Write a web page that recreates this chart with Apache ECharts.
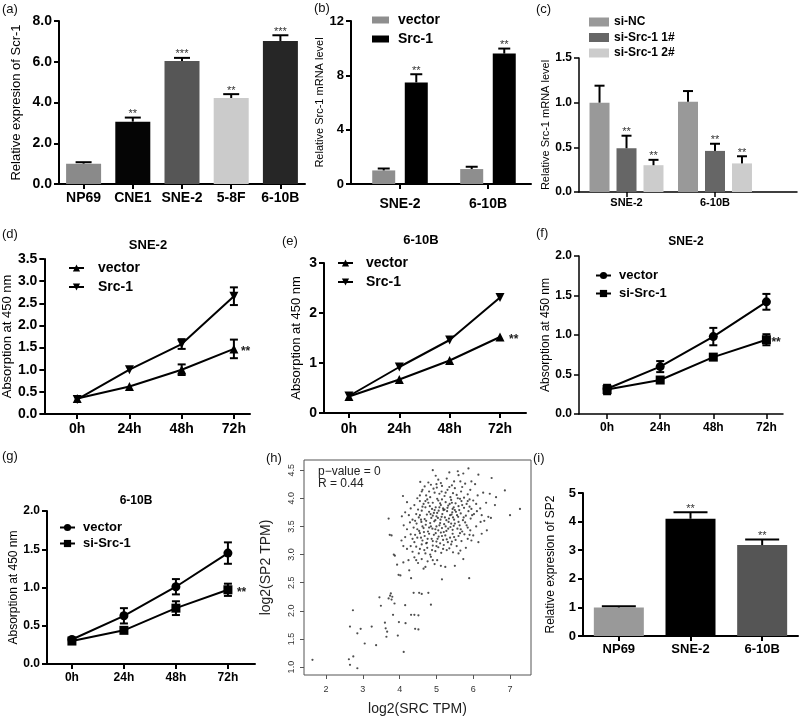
<!DOCTYPE html>
<html>
<head>
<meta charset="utf-8">
<script src="https://cdn.jsdelivr.net/npm/echarts@6/dist/echarts.min.js"></script>
<style>
  html, body { margin: 0; padding: 0; background: #fff; }
  #main { width: 800px; height: 717px; }
</style>
</head>
<body>
<div id="main"></div>
<script>
var FONT = 'Liberation Sans, Arial, sans-serif';

// (a) relative expression of Scr-1
var aCats = ['NP69', 'CNE1', 'SNE-2', '5-8F', '6-10B'];
var aVals = [1.0, 3.06, 6.04, 4.22, 7.02];
var aErr = [0.07, 0.2, 0.15, 0.19, 0.28];
var aStars = ['', '**', '***', '**', '***'];
var aColors = ['#8a8a8a', '#050505', '#565656', '#cbcbcb', '#262626'];

// (b) Src-1 mRNA, overexpression
var bCats = ['SNE-2', '6-10B'];
var bVector = [1.0, 1.1];
var bVectorErr = [0.14, 0.17];
var bSrc = [7.48, 9.6];
var bSrcErr = [0.6, 0.37];
var bSrcStars = ['**', '**'];

// (c) Src-1 mRNA, knockdown
var cCats = ['SNE-2', '6-10B'];
var cNC = [1.0, 1.01];
var cNCErr = [0.19, 0.12];
var cSi1 = [0.49, 0.46];
var cSi1Err = [0.14, 0.08];
var cSi2 = [0.3, 0.32];
var cSi2Err = [0.06, 0.08];
var cStars = ['**', '**'];

// time course
var hours = [0, 24, 48, 72];
var hourLabels = ['0h', '24h', '48h', '72h'];

// (d) SNE-2
var dVector = [0.35, 0.62, 1.0, 1.47];
var dVectorErr = [0.03, 0.03, 0.12, 0.21];
var dSrc = [0.33, 1.0, 1.58, 2.66];
var dSrcErr = [0.03, 0.03, 0.11, 0.2];
// (e) 6-10B
var eVector = [0.33, 0.67, 1.05, 1.52];
var eVectorErr = [0, 0, 0, 0];
var eSrc = [0.34, 0.92, 1.46, 2.31];
var eSrcErr = [0, 0, 0, 0];
// (f) SNE-2
var fVector = [0.32, 0.6, 0.98, 1.42];
var fVectorErr = [0.05, 0.07, 0.11, 0.1];
var fSi = [0.31, 0.43, 0.72, 0.94];
var fSiErr = [0.06, 0.03, 0.04, 0.07];
// (g) 6-10B
var gVector = [0.32, 0.63, 1.01, 1.45];
var gVectorErr = [0.04, 0.1, 0.1, 0.14];
var gSi = [0.3, 0.44, 0.73, 0.97];
var gSiErr = [0.04, 0.03, 0.09, 0.08];
var lineStars = ['', '', '', '**'];

// (h) log2(SRC TPM) vs log2(SP2 TPM)
var hPoints = [
  [4.9,4.5],[5.58,4.48],[5.87,4.53],[5.73,4.44],[6.14,4.42],[6.5,4.36],[4.56,4.29],[4.78,4.28],[5.05,4.33],[5.28,4.35],
  [5.42,4.23],[5.6,4.41],[5.78,4.26],[5.15,4.22],[4.68,4.21],[5.95,4.3],[6.05,4.25],[5.35,4.46],[4.98,4.4],
  [4.09,4.04],[4.92,4.17],[5.01,4.19],[5.14,4.12],[5.3,4.15],[5.45,4.09],[5.67,4.12],[5.92,4.15],[6.86,4.14],[6.45,4.08],
  [4.72,4.05],[4.6,4.12],[4.83,4.02],[5.22,4.04],[5.38,4.02],[5.55,4.06],[5.75,4.01],[6.12,4.05],[6.27,4.1],[4.48,4.0],
  [5.08,4.08],[5.5,4.18],[5.85,4.07],[6.62,4.02],[4.95,4.1],
  [4.55,3.95],[4.65,3.9],[4.75,3.98],[4.82,3.86],[4.9,3.92],[4.98,3.84],[5.05,3.96],[5.12,3.88],[5.18,3.82],[5.25,3.93],
  [5.32,3.87],[5.4,3.97],[5.47,3.84],[5.52,3.91],[5.6,3.86],[5.68,3.95],[5.75,3.83],[5.82,3.9],[5.9,3.85],[6.0,3.96],
  [6.19,3.82],[6.59,3.88],[7.27,3.81],[4.4,3.88],[4.3,3.82],[4.2,3.93],[5.02,3.99],[5.22,3.8],[5.44,3.81],[5.64,3.99],
  [4.88,3.81],[6.35,3.92],[5.95,3.81],[5.1,3.91],[5.36,3.9],[4.7,3.84],
  [4.06,3.68],[3.7,3.64],[4.15,3.75],[4.25,3.7],[4.35,3.62],[4.45,3.72],[4.52,3.66],[4.6,3.78],[4.68,3.63],[4.74,3.71],
  [4.8,3.76],[4.86,3.65],[4.93,3.74],[5.0,3.68],[5.06,3.78],[5.11,3.62],[5.16,3.72],[5.23,3.66],[5.29,3.77],[5.34,3.64],
  [5.41,3.71],[5.48,3.62],[5.53,3.76],[5.59,3.67],[5.66,3.73],[5.72,3.61],[5.8,3.69],[5.87,3.77],[5.93,3.64],[6.02,3.72],
  [6.23,3.7],[6.41,3.67],[7.0,3.7],[6.48,3.65],[4.97,3.61],[5.19,3.79],[5.37,3.7],[5.62,3.79],[4.9,3.69],[5.45,3.66],
  [5.04,3.65],[4.58,3.62],
  [4.11,3.52],[4.2,3.45],[4.28,3.57],[4.38,3.48],[4.46,3.55],[4.53,3.42],[4.59,3.58],[4.65,3.47],[4.71,3.53],[4.77,3.41],
  [4.83,3.56],[4.89,3.46],[4.94,3.59],[5.0,3.5],[5.05,3.43],[5.1,3.56],[5.15,3.47],[5.21,3.54],[5.27,3.42],[5.33,3.58],
  [5.38,3.49],[5.44,3.44],[5.5,3.55],[5.57,3.46],[5.63,3.52],[5.7,3.41],[5.78,3.57],[5.85,3.48],[5.92,3.43],[6.0,3.34],
  [6.37,3.43],[6.08,3.5],[4.85,3.5],[5.25,3.5],[5.6,3.58],[4.62,3.5],[5.4,3.55],[3.73,3.35],[3.78,3.34],
  [4.15,3.31],[4.05,3.25],[4.3,3.36],[4.4,3.22],[4.48,3.3],[4.55,3.38],[4.62,3.25],[4.68,3.33],[4.74,3.21],[4.8,3.37],
  [4.87,3.28],[4.93,3.35],[5.0,3.23],[5.06,3.32],[5.12,3.39],[5.18,3.26],[5.24,3.34],[5.31,3.22],[5.37,3.3],[5.44,3.37],
  [5.52,3.26],[5.6,3.33],[5.68,3.24],[5.76,3.36],[5.85,3.28],[6.23,3.37],[6.14,3.22],[5.95,3.25],[4.98,3.38],[5.42,3.23],
  [4.35,3.28],
  [4.2,3.1],[3.84,3.0],[3.87,2.98],[4.1,3.15],[4.35,3.05],[4.45,3.14],[4.52,3.02],[4.6,3.18],[4.67,3.08],[4.75,3.12],
  [4.83,3.0],[4.9,3.16],[4.97,3.06],[5.05,3.13],[5.13,3.03],[5.2,3.17],[5.28,3.08],[5.35,3.11],[5.45,3.04],[5.55,3.15],
  [5.65,3.07],[5.8,3.12],[4.72,3.2],[5.1,3.2],
  [4.24,2.9],[3.93,2.82],[4.4,2.95],[4.5,2.85],[4.6,2.92],[4.7,2.78],[4.76,2.88],[4.85,2.96],[4.95,2.83],[5.02,2.9],
  [5.12,2.8],[5.24,2.78],[5.73,2.92],[4.65,2.75],[5.5,2.8],[4.26,2.72],[4.1,2.86],
  [3.97,2.64],[4.02,2.63],[4.31,2.58],[5.15,2.56],[5.89,2.58],
  [4.62,4.15],[4.85,4.24],[5.12,4.27],[5.48,4.3],[5.7,4.2],[5.25,4.1],[4.8,4.12],[5.58,4.0],[5.9,3.98],[6.08,3.9],
  [4.5,3.8],[4.62,3.85],[4.78,3.92],[4.95,3.79],[5.08,3.84],[5.3,3.83],[5.5,3.79],[5.7,3.88],[5.85,3.95],[6.1,3.77],
  [4.42,3.6],[4.55,3.7],[4.72,3.6],[4.84,3.72],[5.02,3.74],[5.14,3.67],[5.27,3.61],[5.43,3.75],[5.56,3.7],[5.74,3.66],
  [4.48,3.45],[4.66,3.4],[4.8,3.48],[4.97,3.45],[5.08,3.52],[5.2,3.4],[5.32,3.46],[5.47,3.51],[5.66,3.45],[5.82,3.52],
  [4.42,3.35],[4.58,3.3],[4.76,3.28],[4.9,3.24],[5.03,3.28],[5.15,3.33],[5.28,3.27],[5.48,3.31],[5.64,3.38],[5.9,3.35],
  [4.3,3.15],[4.55,3.1],[4.7,3.02],[4.88,3.08],[5.0,3.15],[5.18,3.1],[5.4,3.18],[5.6,3.02],[4.45,2.9],[4.9,2.9],
  [4.55,4.05],[5.0,4.25],[5.35,4.2],[5.65,4.3],[4.7,3.95],[5.15,3.98],[5.42,3.92],[5.97,3.7],[6.2,3.58],[6.3,3.6],
  [1.63,1.13],[2.62,1.14],[2.65,1.04],[2.74,1.19],[2.85,0.98],[2.73,2.01],[2.65,1.72],[2.85,1.6],[2.94,1.68],[3.05,1.42],
  [3.24,1.72],[3.36,1.39],[3.45,2.24],[3.49,2.09],[3.6,1.79],[3.62,1.69],[3.66,1.63],[3.64,1.54],[3.7,2.22],[3.74,2.27],
  [3.76,2.31],[3.78,2.2],[3.8,2.25],[3.86,2.13],[3.82,1.93],[3.95,1.56],[4.11,1.27],[4.16,1.78],[4.38,2.32],[4.53,2.32],
  [4.78,2.32],[4.85,2.11],[4.31,1.93],[4.4,1.93],[4.51,1.92],[4.15,2.1],[3.98,1.8],[4.42,1.68],[4.51,1.67],[4.6,2.3]
];
var hXTicks = [2, 3, 4, 5, 6, 7];
var hYTicks = [1.0, 1.5, 2.0, 2.5, 3.0, 3.5, 4.0, 4.5];

// (i) relative expression of SP2
var iCats = ['NP69', 'SNE-2', '6-10B'];
var iVals = [1.0, 4.1, 3.18];
var iErr = [0.04, 0.23, 0.19];
var iStars = ['', '**', '**'];
var iColors = ['#999999', '#000000', '#555555'];

function groupData(vals, off) {
  return vals.map(function (v, i) { return [i + off, v]; });
}
function groupErr(vals, errs, off) {
  return vals.map(function (v, i) { return [i + off, v, v + errs[i], v]; });
}
function lineData(vals) {
  return hours.map(function (h, i) { return [h, vals[i]]; });
}
function lineErr(vals, errs) {
  return hours.map(function (h, i) { return [h, vals[i] - errs[i], vals[i] + errs[i], vals[i]]; });
}

// error bars (and significance stars) drawn through the axes
function errSeries(ax, data, stars, o) {
  return {
    type: 'custom', xAxisIndex: ax, yAxisIndex: ax, z: 3, silent: true,
    data: data, encode: {x: 0, y: [1, 2]},
    renderItem: function (params, api) {
      var x = api.value(0);
      var lo = api.coord([x, api.value(1)]);
      var hi = api.coord([x, api.value(2)]);
      var st = {stroke: '#000', lineWidth: o.lw || 2};
      var kids = [];
      if (lo[1] - hi[1] > (o.minPx || 0)) {
        kids.push({type: 'line', shape: {x1: lo[0], y1: lo[1], x2: hi[0], y2: hi[1]}, style: st});
        kids.push({type: 'line', shape: {x1: hi[0] - o.cap, y1: hi[1], x2: hi[0] + o.cap, y2: hi[1]}, style: st});
        if (o.both) {
          kids.push({type: 'line', shape: {x1: lo[0] - o.cap, y1: lo[1], x2: lo[0] + o.cap, y2: lo[1]}, style: st});
        }
      }
      var s = stars ? stars[params.dataIndex] : '';
      if (s) {
        if (o.starRight) {
          var m = api.coord([x, api.value(3)]);
          kids.push({type: 'text', x: m[0] + o.starDx, y: m[1] + 3,
            style: {text: s, align: 'left', verticalAlign: 'middle', font: o.starFont, fill: '#222'}});
        } else {
          kids.push({type: 'text', x: hi[0], y: hi[1] + 2,
            style: {text: s, align: 'center', verticalAlign: 'bottom', font: o.starFont, fill: '#333'}});
        }
      }
      return {type: 'group', children: kids};
    }
  };
}

function yAxisOf(g, min, max, step, dec, fs, name, gap, nfs, lw) {
  return {
    type: 'value', gridIndex: g, min: min, max: max, interval: step,
    axisLine: {show: true, onZero: false, lineStyle: {color: '#000', width: lw}},
    axisTick: {show: true, length: 5, lineStyle: {color: '#000', width: lw}},
    splitLine: {show: false},
    axisLabel: {color: '#000', fontWeight: 'bold', fontSize: fs, fontFamily: FONT, margin: 7,
      formatter: function (v) { return v.toFixed(dec); }},
    name: name, nameLocation: 'middle', nameGap: gap,
    nameTextStyle: {color: '#000', fontSize: nfs, fontFamily: FONT}
  };
}
function catAxisOf(g, cats, fs, margin, lw) {
  return {
    type: 'category', gridIndex: g, data: cats,
    axisLine: {show: true, onZero: false, lineStyle: {color: '#000', width: lw}},
    axisTick: {show: true, alignWithLabel: true, length: 5, lineStyle: {color: '#000', width: lw}},
    axisLabel: {interval: 0, color: '#000', fontWeight: 'bold', fontSize: fs, fontFamily: FONT, margin: margin}
  };
}
function posAxisOf(g, min, max, ticks, labels, fs, margin, lw) {
  return {
    type: 'value', gridIndex: g, min: min, max: max,
    axisLine: {show: true, onZero: false, lineStyle: {color: '#000', width: lw}},
    axisTick: {show: true, length: 5, customValues: ticks, lineStyle: {color: '#000', width: lw}},
    splitLine: {show: false},
    axisLabel: {color: '#000', fontWeight: 'bold', fontSize: fs, fontFamily: FONT, margin: margin,
      customValues: ticks,
      formatter: function (v) { return labels[ticks.indexOf(v)]; }}
  };
}
function legendOf(names, left, top, o) {
  return {
    data: names, left: left, top: top, orient: 'vertical', padding: 0,
    itemWidth: o.w, itemHeight: o.h, itemGap: o.gap, icon: o.icon,
    selectedMode: false,
    formatter: function (n) { return n.split('|')[1]; },
    textStyle: {color: '#000', fontWeight: 'bold', fontSize: o.fs, fontFamily: FONT, padding: [0, 0, 0, o.pad]}
  };
}
function lineSeries(ax, name, vals, symbol, rot) {
  return {
    type: 'line', name: name, xAxisIndex: ax, yAxisIndex: ax, z: 4,
    data: lineData(vals), symbol: symbol, symbolSize: 9, symbolRotate: rot || 0,
    lineStyle: {color: '#000', width: 2}, itemStyle: {color: '#000'}
  };
}

var grids = [
  {left: 59, top: 21, width: 246, height: 163},
  {left: 351, top: 21, width: 180, height: 163},
  {left: 579, top: 58, width: 218, height: 134},
  {left: 44, top: 259, width: 206, height: 155},
  {left: 324, top: 263, width: 202, height: 150},
  {left: 579, top: 256, width: 204, height: 158},
  {left: 47, top: 511, width: 208, height: 153},
  {left: 304, top: 460, width: 227, height: 215, show: true, borderColor: '#555', borderWidth: 1},
  {left: 583, top: 493, width: 215, height: 143}
];

var xAxes = [
  catAxisOf(0, aCats, 14, 7, 2),
  posAxisOf(1, -0.557, 1.489, [0, 1], bCats, 14, 13, 2),
  posAxisOf(2, -0.537, 1.927, [0, 1], cCats, 11, 5, 1.5),
  posAxisOf(3, -15.1, 79.4, hours, hourLabels, 14, 8, 2),
  posAxisOf(4, -11.9, 84.4, hours, hourLabels, 14, 9, 2),
  posAxisOf(5, -12.7, 79.5, hours, hourLabels, 12, 8, 1.5),
  posAxisOf(6, -11.5, 84.5, hours, hourLabels, 12, 8, 2),
  {
    type: 'value', gridIndex: 7, min: 1.4, max: 7.57,
    axisLine: {show: false}, splitLine: {show: false},
    axisTick: {show: true, length: 4, customValues: hXTicks, lineStyle: {color: '#555'}},
    axisLabel: {customValues: hXTicks, color: '#333', fontSize: 9, fontFamily: FONT, margin: 10},
    name: 'log2(SRC TPM)', nameLocation: 'middle', nameGap: 27,
    nameTextStyle: {color: '#222', fontSize: 14, fontFamily: FONT}
  },
  catAxisOf(8, iCats, 13, 7, 2)
];

var yAxes = [
  yAxisOf(0, 0, 8, 2, 1, 14, 'Relative expresion of Scr-1', 36, 13, 2),
  yAxisOf(1, 0, 12, 4, 0, 13, 'Relative Src-1 mRNA level', 13, 11, 2),
  yAxisOf(2, 0, 1.5, 0.5, 1, 12, 'Relative Src-1 mRNA level', 27, 11, 1.5),
  yAxisOf(3, 0, 3.5, 0.5, 1, 14, 'Absorption at 450 nm', 21, 13, 2),
  yAxisOf(4, 0, 3, 1, 0, 14, 'Absorption at 450 nm', 21, 13, 2),
  yAxisOf(5, 0, 2, 0.5, 1, 12, 'Absorption at 450 nm', 26, 12, 1.5),
  yAxisOf(6, 0, 2, 0.5, 1, 12, 'Absorption at 450 nm', 26, 12, 2),
  {
    type: 'value', gridIndex: 7, min: 0.86, max: 4.68,
    axisLine: {show: false}, splitLine: {show: false},
    axisTick: {show: true, length: 4, customValues: hYTicks, lineStyle: {color: '#555'}},
    axisLabel: {customValues: hYTicks, rotate: 90, color: '#333', fontSize: 9, fontFamily: FONT, margin: 8,
      formatter: function (v) { return v.toFixed(1); }},
    name: 'log2(SP2 TPM)', nameLocation: 'middle', nameGap: 31,
    nameTextStyle: {color: '#222', fontSize: 14, fontFamily: FONT}
  },
  yAxisOf(8, 0, 5, 1, 0, 13, 'Relative expresion of SP2', 26, 12, 2)
];

var barErr = {cap: 8, starFont: '11px ' + FONT};
var lineErrOpt = {cap: 4, both: true, minPx: 9};

var series = [
  // (a)
  {type: 'bar', xAxisIndex: 0, yAxisIndex: 0, barWidth: 35,
    data: aVals.map(function (v, i) { return {value: v, itemStyle: {color: aColors[i]}}; })},
  errSeries(0, aVals.map(function (v, i) { return [i, v, v + aErr[i]]; }), aStars, barErr),
  // (b)
  {type: 'bar', name: 'b|vector', xAxisIndex: 1, yAxisIndex: 1, barWidth: 23, barGap: '-100%',
    data: groupData(bVector, -0.185), itemStyle: {color: '#8e8e8e'}},
  {type: 'bar', name: 'b|Src-1', xAxisIndex: 1, yAxisIndex: 1, barWidth: 23, barGap: '-100%',
    data: groupData(bSrc, 0.185), itemStyle: {color: '#000'}},
  errSeries(1, groupErr(bVector, bVectorErr, -0.185), null, {cap: 6}),
  errSeries(1, groupErr(bSrc, bSrcErr, 0.185), bSrcStars, {cap: 6, starFont: '11px ' + FONT}),
  // (c)
  {type: 'bar', name: 'c|si-NC', xAxisIndex: 2, yAxisIndex: 2, barWidth: 20, barGap: '-100%',
    data: groupData(cNC, -0.305), itemStyle: {color: '#999999'}},
  {type: 'bar', name: 'c|si-Src-1 1#', xAxisIndex: 2, yAxisIndex: 2, barWidth: 20, barGap: '-100%',
    data: groupData(cSi1, 0), itemStyle: {color: '#666666'}},
  {type: 'bar', name: 'c|si-Src-1 2#', xAxisIndex: 2, yAxisIndex: 2, barWidth: 20, barGap: '-100%',
    data: groupData(cSi2, 0.305), itemStyle: {color: '#cccccc'}},
  errSeries(2, groupErr(cNC, cNCErr, -0.305), null, {cap: 5}),
  errSeries(2, groupErr(cSi1, cSi1Err, 0), cStars, {cap: 5, starFont: '11px ' + FONT}),
  errSeries(2, groupErr(cSi2, cSi2Err, 0.305), cStars, {cap: 5, starFont: '11px ' + FONT}),
  // (d)
  lineSeries(3, 'd|vector', dVector, 'triangle'),
  lineSeries(3, 'd|Src-1', dSrc, 'triangle', 180),
  errSeries(3, lineErr(dVector, dVectorErr), lineStars,
    {cap: 4, both: true, minPx: 9, starRight: true, starDx: 7, starFont: 'bold 12px ' + FONT}),
  errSeries(3, lineErr(dSrc, dSrcErr), null, lineErrOpt),
  // (e)
  lineSeries(4, 'e|vector', eVector, 'triangle'),
  lineSeries(4, 'e|Src-1', eSrc, 'triangle', 180),
  errSeries(4, lineErr(eVector, eVectorErr), lineStars,
    {cap: 4, both: true, minPx: 9, starRight: true, starDx: 9, starFont: 'bold 12px ' + FONT}),
  // (f)
  lineSeries(5, 'f|vector', fVector, 'circle'),
  lineSeries(5, 'f|si-Src-1', fSi, 'rect'),
  errSeries(5, lineErr(fVector, fVectorErr), null, lineErrOpt),
  errSeries(5, lineErr(fSi, fSiErr), lineStars,
    {cap: 4, both: true, minPx: 9, starRight: true, starDx: 5, starFont: 'bold 12px ' + FONT}),
  // (g)
  lineSeries(6, 'g|vector', gVector, 'circle'),
  lineSeries(6, 'g|si-Src-1', gSi, 'rect'),
  errSeries(6, lineErr(gVector, gVectorErr), null, lineErrOpt),
  errSeries(6, lineErr(gSi, gSiErr), lineStars,
    {cap: 4, both: true, minPx: 9, starRight: true, starDx: 9, starFont: 'bold 12px ' + FONT}),
  // (h)
  {type: 'scatter', xAxisIndex: 7, yAxisIndex: 7, data: hPoints, symbolSize: 2.2,
    itemStyle: {color: '#222'}},
  // (i)
  {type: 'bar', xAxisIndex: 8, yAxisIndex: 8, barWidth: 50,
    data: iVals.map(function (v, i) { return {value: v, itemStyle: {color: iColors[i]}}; })},
  errSeries(8, iVals.map(function (v, i) { return [i, v, v + iErr[i]]; }), iStars,
    {cap: 17, starFont: '11px ' + FONT})
];

var legends = [
  legendOf(['b|vector', 'b|Src-1'], 372, 13, {w: 17, h: 7, gap: 5, icon: 'rect', fs: 14, pad: 4}),
  legendOf(['c|si-NC', 'c|si-Src-1 1#', 'c|si-Src-1 2#'], 589, 16, {w: 20, h: 9, gap: 3.5, icon: 'rect', fs: 12, pad: 0}),
  legendOf(['d|vector', 'd|Src-1'], 68, 261, {w: 15, h: 9, gap: 5, fs: 14, pad: 9}),
  legendOf(['e|vector', 'e|Src-1'], 337, 256, {w: 15, h: 9, gap: 5, fs: 14, pad: 8}),
  legendOf(['f|vector', 'f|si-Src-1'], 595, 269, {w: 15, h: 9, gap: 5, fs: 13, pad: 3}),
  legendOf(['g|vector', 'g|si-Src-1'], 59, 521, {w: 15, h: 9, gap: 3, fs: 13, pad: 3})
];

var panelLetters = [
  ['(a)', 2, 3], ['(b)', 314, 2], ['(c)', 536, 3], ['(d)', 2, 228], ['(e)', 282, 235],
  ['(f)', 536, 227], ['(g)', 2, 450], ['(h)', 266, 452], ['(i)', 533, 452]
];
var panelTitles = [
  ['SNE-2', 148, 245, 13], ['6-10B', 421, 240, 13], ['SNE-2', 686, 242, 12], ['6-10B', 136, 501, 12]
];

var graphics = [];
panelLetters.forEach(function (p) {
  graphics.push({type: 'text', left: p[1], top: p[2], style: {text: p[0], font: '13px ' + FONT, fill: '#111'}});
});
panelTitles.forEach(function (t) {
  graphics.push({type: 'text', x: t[1], y: t[2],
    style: {text: t[0], align: 'center', verticalAlign: 'middle', font: 'bold ' + t[3] + 'px ' + FONT, fill: '#000'}});
});
graphics.push({type: 'text', left: 318, top: 466, style: {text: 'p\u2212value = 0', font: '12px ' + FONT, fill: '#222'}});
graphics.push({type: 'text', left: 318, top: 478, style: {text: 'R = 0.44', font: '12px ' + FONT, fill: '#222'}});

var chart = echarts.init(document.getElementById('main'), null, {renderer: 'canvas'});
chart.setOption({
  backgroundColor: '#fff',
  animation: false,
  grid: grids,
  xAxis: xAxes,
  yAxis: yAxes,
  legend: legends,
  series: series,
  graphic: graphics
});
</script>
</body>
</html>
